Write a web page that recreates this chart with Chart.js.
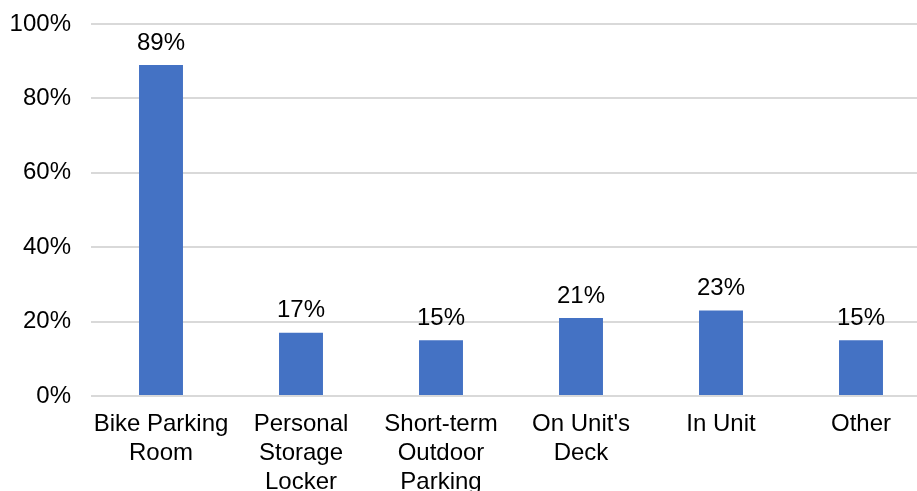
<!DOCTYPE html>
<html>
<head>
<meta charset="utf-8">
<script src="https://cdn.jsdelivr.net/npm/chart.js@4"></script>
<style>
  html, body { margin: 0; padding: 0; background: #fff; overflow: hidden; }
  #wrap { position: absolute; left: 0; top: 0; width: 931px; height: 500px; }
</style>
</head>
<body>
<div id="wrap"><canvas id="bike-storage-chart"></canvas></div>
<script>
// where residents store bikes (% of respondents)
var categories = [
  ["Bike Parking", "Room"],
  ["Personal", "Storage", "Locker"],
  ["Short-term", "Outdoor", "Parking"],
  ["On Unit's", "Deck"],
  "In Unit",
  "Other"
];
var percents = [89, 17, 15, 21, 23, 15];
var yTicks = [0, 20, 40, 60, 80, 100];

var font = { family: "'Liberation Sans', Arial, sans-serif", size: 24 };

// labels above each bar
var valueLabels = {
  id: 'valueLabels',
  afterDatasetsDraw: function (chart) {
    var ctx = chart.ctx;
    var meta = chart.getDatasetMeta(0);
    ctx.save();
    ctx.font = font.size + "px " + font.family;
    ctx.fillStyle = '#000';
    ctx.textAlign = 'center';
    ctx.textBaseline = 'bottom';
    meta.data.forEach(function (bar, i) {
      ctx.fillText(percents[i] + '%', bar.x, bar.y - 10);
    });
    ctx.restore();
  }
};

new Chart(document.getElementById("bike-storage-chart"), {
  type: 'bar',
  data: {
    labels: categories,
    datasets: [
      {
        label: "Share",
        backgroundColor: "#4472C4",
        data: percents,
        categoryPercentage: 1,
        barPercentage: 0.314
      }
    ]
  },
  options: {
    responsive: true,
    maintainAspectRatio: false,
    animation: false,
    layout: { padding: { top: 24, left: 0, right: 0, bottom: 0 } },
    plugins: {
      legend: { display: false },
      tooltip: { enabled: false }
    },
    scales: {
      x: {
        grid: { display: false },
        border: { display: false },
        ticks: {
          color: '#000',
          font: { family: font.family, size: 24, lineHeight: 1.2 },
          padding: 6,
          maxRotation: 0,
          autoSkip: false
        },
        afterFit: function (s) { s.height = 104; }
      },
      y: {
        min: 0,
        max: 100,
        afterBuildTicks: function (s) {
          s.ticks = yTicks.map(function (v) { return { value: v }; });
        },
        grid: { color: '#d9d9d9', lineWidth: 2, drawTicks: false },
        border: { display: false },
        ticks: {
          color: '#000',
          font: font,
          padding: 20,
          callback: function (v) { return v + '%'; }
        },
        afterFit: function (s) {
          s.width = 91;
          s.paddingTop = 0;
          s.paddingBottom = 0;
        }
      }
    }
  },
  plugins: [valueLabels]
});
</script>
</body>
</html>
